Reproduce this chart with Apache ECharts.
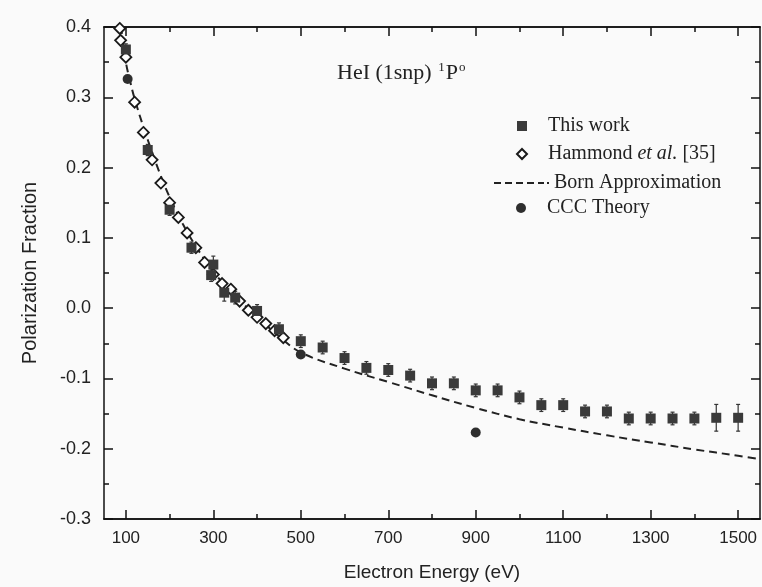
<!DOCTYPE html>
<html>
<head>
<meta charset="utf-8">
<script src="https://cdn.jsdelivr.net/npm/echarts@6/dist/echarts.min.js"></script>
<style>
  html, body { margin: 0; padding: 0; background: #fafafa; }
  #main { width: 762px; height: 587px; }
</style>
</head>
<body>
<div id="main"></div>
<script>
// This work (squares with error bars)
var workEnergy = [100, 150, 200, 250, 295, 300, 325, 350, 400, 450, 500, 550, 600, 650, 700, 750, 800, 850, 900, 950, 1000, 1050, 1100, 1150, 1200, 1250, 1300, 1350, 1400, 1450, 1500];
var workPol = [0.368, 0.225, 0.140, 0.086, 0.047, 0.062, 0.022, 0.015, -0.004, -0.030, -0.047, -0.056, -0.071, -0.085, -0.088, -0.096, -0.107, -0.107, -0.117, -0.117, -0.127, -0.138, -0.138, -0.147, -0.147, -0.157, -0.157, -0.157, -0.157, -0.156, -0.156];
var workErr = [0.008, 0.008, 0.008, 0.008, 0.009, 0.012, 0.012, 0.009, 0.009, 0.009, 0.009, 0.009, 0.009, 0.009, 0.009, 0.009, 0.009, 0.009, 0.009, 0.009, 0.009, 0.009, 0.009, 0.009, 0.009, 0.009, 0.009, 0.009, 0.009, 0.019, 0.019];

// Hammond et al. [35] (open diamonds)
var hamEnergy = [86, 88, 100, 120, 140, 160, 180, 200, 220, 240, 260, 280, 300, 320, 340, 360, 380, 400, 420, 440, 460];
var hamPol = [0.398, 0.381, 0.357, 0.293, 0.250, 0.211, 0.178, 0.150, 0.129, 0.107, 0.086, 0.065, 0.048, 0.035, 0.027, 0.010, -0.003, -0.013, -0.022, -0.032, -0.042];

// Born approximation (dashed curve)
var bornEnergy = [85, 90, 100, 110, 120, 140, 160, 180, 200, 230, 260, 300, 350, 400, 450, 500, 600, 700, 800, 900, 1000, 1100, 1200, 1300, 1400, 1500, 1550];
var bornPol = [0.42, 0.395, 0.35, 0.322, 0.298, 0.258, 0.222, 0.188, 0.158, 0.12, 0.088, 0.052, 0.017, -0.012, -0.04, -0.063, -0.086, -0.105, -0.124, -0.142, -0.158, -0.17, -0.181, -0.191, -0.201, -0.21, -0.215];

// CCC theory (filled circles)
var cccEnergy = [104, 500, 900];
var cccPol = [0.326, -0.066, -0.177];

var xMajor = [100, 300, 500, 700, 900, 1100, 1300, 1500];
var xMinor = [200, 400, 600, 800, 1000, 1200, 1400];

function pairs(xs, ys) {
  return xs.map(function (x, i) { return [x, ys[i]]; });
}

var chart = echarts.init(document.getElementById('main'));

var frame = { show: true, onZero: false, lineStyle: { color: '#111', width: 1.5 } };
var labelFont = { fontFamily: 'Liberation Sans', fontSize: 17, color: '#222' };

function xAxisCfg(pos, ticks, len, labels) {
  return {
    type: 'value', position: pos, min: 50, max: 1550,
    axisLine: frame,
    splitLine: { show: false },
    axisTick: { show: true, inside: true, length: len, customValues: ticks, lineStyle: { color: '#111', width: 1.5 } },
    axisLabel: labels ? Object.assign({ show: true, margin: 11, customValues: ticks, formatter: function (v) { return String(v); } }, labelFont) : { show: false }
  };
}

function yAxisCfg(pos, labels) {
  return {
    type: 'value', position: pos, min: -0.3, max: 0.4, interval: 0.1,
    axisLine: frame,
    splitLine: { show: false },
    axisTick: { show: true, inside: true, length: 9, lineStyle: { color: '#111', width: 1.5 } },
    minorTick: { show: true, splitNumber: 2, length: 5, lineStyle: { color: '#111', width: 1.5 } },
    axisLabel: labels ? Object.assign({ show: true, margin: 13, formatter: function (v) { return v.toFixed(1); } }, labelFont, { fontSize: 18 }) : { show: false }
  };
}

var xAxes = [
  xAxisCfg('bottom', xMajor, 9, true),
  xAxisCfg('bottom', xMinor, 5, false),
  xAxisCfg('top', xMajor, 9, false),
  xAxisCfg('top', xMinor, 5, false)
];
xAxes[0].name = 'Electron Energy (eV)';
xAxes[0].nameLocation = 'middle';
xAxes[0].nameGap = 44;
xAxes[0].nameTextStyle = { fontFamily: 'Liberation Sans', fontSize: 19, color: '#222' };

var yAxes = [yAxisCfg('left', true), yAxisCfg('right', false)];
yAxes[0].name = 'Polarization Fraction';
yAxes[0].nameLocation = 'middle';
yAxes[0].nameGap = 64;
yAxes[0].nameTextStyle = { fontFamily: 'Liberation Sans', fontSize: 20, color: '#222' };

var errData = workEnergy.map(function (e, i) {
  return [e, workPol[i] - workErr[i], workPol[i] + workErr[i]];
});

var legendText = {
  fontFamily: 'Liberation Serif', fontSize: 20, color: '#222', lineHeight: 20,
  rich: { i: { fontFamily: 'Liberation Serif', fontStyle: 'italic', fontSize: 20, color: '#222' } }
};
var padText = Object.assign({ padding: [0, 0, 0, 16] }, legendText);
var dashIcon = 'path://M0,0h7v2h-7z M11,0h7v2h-7z M22,0h7v2h-7z M33,0h7v2h-7z M44,0h6v2h-6z M53,0h2v2h-2z';

var option = {
  backgroundColor: '#fafafa',
  animation: false,
  grid: { left: 104, right: 2, top: 27, bottom: 67 },
  title: {
    text: 'HeI (1snp) {sup|1}P{sup|o}',
    left: 332, top: 56,
    textStyle: {
      fontFamily: 'Liberation Serif', fontSize: 22, fontWeight: 'normal', color: '#222',
      rich: { sup: { fontFamily: 'Liberation Serif', fontSize: 13, verticalAlign: 'top', padding: [0, 1, 12, 1], color: '#222' } }
    }
  },
  legend: [
    {
      orient: 'vertical', left: 511, top: 111,
      itemWidth: 10, itemHeight: 10, itemGap: 8,
      data: ['This work', 'Hammond et al. [35]'],
      formatter: function (name) {
        return name === 'Hammond et al. [35]' ? 'Hammond {i|et al.} [35]' : name;
      },
      textStyle: padText
    },
    {
      left: 489, top: 168,
      itemWidth: 55, itemHeight: 2,
      data: [{ name: 'Born Approximation', icon: dashIcon }],
      textStyle: legendText
    },
    {
      left: 511, top: 193,
      itemWidth: 10, itemHeight: 10,
      data: ['CCC Theory'],
      textStyle: padText
    }
  ],
  xAxis: xAxes,
  yAxis: yAxes,
  series: [
    {
      name: 'Born Approximation', type: 'line', smooth: 0.4, symbol: 'none', clip: true,
      data: pairs(bornEnergy, bornPol),
      lineStyle: { color: '#222', width: 2, type: [8, 5] },
      itemStyle: { color: '#222' },
      z: 2
    },
    {
      name: 'errorbars', type: 'custom',
      data: errData,
      renderItem: function (params, api) {
        var top = api.coord([api.value(0), api.value(2)]);
        var bot = api.coord([api.value(0), api.value(1)]);
        var st = { stroke: '#333', lineWidth: 1.2 };
        return {
          type: 'group',
          children: [
            { type: 'line', shape: { x1: top[0], y1: top[1], x2: bot[0], y2: bot[1] }, style: st },
            { type: 'line', shape: { x1: top[0] - 2, y1: top[1], x2: top[0] + 2, y2: top[1] }, style: st },
            { type: 'line', shape: { x1: bot[0] - 2, y1: bot[1], x2: bot[0] + 2, y2: bot[1] }, style: st }
          ]
        };
      },
      z: 3
    },
    {
      name: 'Hammond et al. [35]', type: 'scatter', symbol: 'diamond', symbolSize: 11,
      data: pairs(hamEnergy, hamPol),
      itemStyle: { color: '#fff', borderColor: '#1a1a1a', borderWidth: 1.8, opacity: 1 },
      z: 4
    },
    {
      name: 'This work', type: 'scatter', symbol: 'rect', symbolSize: 10,
      data: pairs(workEnergy, workPol),
      itemStyle: { color: '#3a3a3a', opacity: 1 },
      z: 5
    },
    {
      name: 'CCC Theory', type: 'scatter', symbol: 'circle', symbolSize: 10,
      data: pairs(cccEnergy, cccPol),
      itemStyle: { color: '#2e2e2e', opacity: 1 },
      z: 6
    }
  ]
};

chart.setOption(option);
</script>
</body>
</html>
